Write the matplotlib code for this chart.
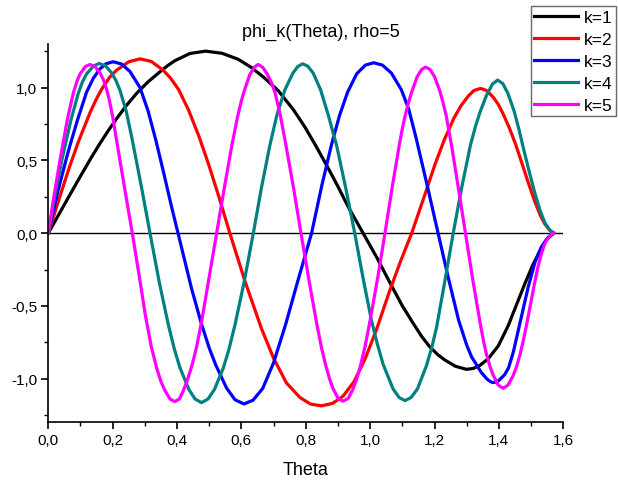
import matplotlib
matplotlib.use("Agg")
import matplotlib.pyplot as plt
from matplotlib.ticker import MultipleLocator, FuncFormatter

# ---- data ----
theta_k1 = [0.0, 0.047, 0.093, 0.135, 0.160, 0.185, 0.210, 0.240, 0.274, 0.310, 0.342,
            0.370, 0.393, 0.440, 0.489, 0.540, 0.590, 0.630, 0.670, 0.714, 0.761,
            0.797, 0.830, 0.865, 0.900, 0.932, 0.955, 0.978, 1.020, 1.066, 1.100,
            1.134, 1.160, 1.185, 1.210, 1.232, 1.265, 1.299, 1.320, 1.340, 1.366, 1.398,
            1.429, 1.455, 1.480, 1.505, 1.530, 1.550, 1.570]
phi_k1 = [0.0, 0.185, 0.365, 0.525, 0.615, 0.70, 0.78, 0.87, 0.96, 1.04, 1.10,
          1.15, 1.185, 1.235, 1.251, 1.236, 1.195, 1.14, 1.07, 0.98, 0.85,
          0.73, 0.605, 0.465, 0.32, 0.18, 0.09, 0.0, -0.165, -0.36, -0.50,
          -0.621, -0.71, -0.781, -0.835, -0.872, -0.915, -0.936, -0.93, -0.91, -0.865, -0.775,
          -0.635, -0.49, -0.35, -0.22, -0.11, -0.04, 0.0]

theta_k2 = [0.0, 0.035, 0.065, 0.093, 0.110, 0.130, 0.150, 0.166, 0.190, 0.212, 0.250,
            0.285, 0.320, 0.357, 0.380, 0.404, 0.435, 0.468, 0.497, 0.530, 0.564,
            0.611, 0.663, 0.700, 0.740, 0.782, 0.815, 0.849, 0.883, 0.916, 0.950,
            0.985, 1.020, 1.060, 1.095, 1.129, 1.170, 1.201, 1.230, 1.260, 1.282,
            1.304, 1.322, 1.343, 1.362, 1.382, 1.398, 1.413, 1.432, 1.452, 1.470,
            1.490, 1.511, 1.528, 1.542, 1.558, 1.570]
phi_k2 = [0.0, 0.245, 0.45, 0.625, 0.72, 0.83, 0.925, 0.99, 1.07, 1.12, 1.178,
          1.198, 1.180, 1.12, 1.065, 0.99, 0.85, 0.665, 0.48, 0.25, 0.0,
          -0.33, -0.66, -0.86, -1.03, -1.13, -1.175, -1.187, -1.17, -1.12, -1.02,
          -0.86, -0.66, -0.40, -0.19, 0.0, 0.265, 0.47, 0.64, 0.79, 0.875,
          0.94, 0.98, 0.995, 0.98, 0.935, 0.885, 0.82, 0.725, 0.61, 0.49,
          0.355, 0.22, 0.125, 0.065, 0.02, 0.0]

theta_k3 = [0.0, 0.030, 0.057, 0.067, 0.091, 0.119, 0.140, 0.160, 0.180, 0.202, 0.228,
            0.254, 0.285, 0.310, 0.334, 0.360, 0.382, 0.403, 0.445, 0.476, 0.500,
            0.520, 0.554, 0.580, 0.608, 0.636, 0.666, 0.700, 0.737, 0.775, 0.818,
            0.850, 0.880, 0.905, 0.930, 0.958, 0.985, 1.011, 1.038, 1.066, 1.097,
            1.120, 1.142, 1.177, 1.211, 1.242, 1.275, 1.300, 1.315, 1.346, 1.363,
            1.372, 1.380, 1.390, 1.400, 1.418, 1.430, 1.445, 1.462, 1.491, 1.512,
            1.532, 1.552, 1.570]
phi_k3 = [0.0, 0.29, 0.52, 0.60, 0.78, 0.97, 1.065, 1.128, 1.165, 1.178, 1.162,
          1.11, 1.00, 0.84, 0.64, 0.40, 0.19, 0.0, -0.38, -0.625, -0.79,
          -0.905, -1.065, -1.145, -1.174, -1.148, -1.068, -0.89, -0.63, -0.33, 0.0,
          0.33, 0.61, 0.81, 0.97, 1.095, 1.155, 1.171, 1.155, 1.10, 0.985,
          0.85, 0.66, 0.33, 0.0, -0.30, -0.60, -0.77, -0.85, -0.96, -1.003,
          -1.018, -1.027, -1.024, -1.012, -0.972, -0.925, -0.815, -0.65, -0.37, -0.20,
          -0.095, -0.03, 0.0]

theta_k4 = [0.0, 0.020, 0.041, 0.052, 0.0705, 0.093, 0.106, 0.119, 0.140, 0.158, 0.178,
            0.197, 0.210, 0.223, 0.243, 0.261, 0.290, 0.316, 0.345, 0.373, 0.392,
            0.409, 0.437, 0.456, 0.476, 0.496, 0.516, 0.544, 0.561, 0.580, 0.608,
            0.637, 0.662, 0.688, 0.710, 0.735, 0.760, 0.775, 0.790, 0.806, 0.823,
            0.846, 0.870, 0.896, 0.924, 0.952, 0.978, 1.004, 1.022, 1.040, 1.071,
            1.090, 1.108, 1.127, 1.147, 1.175, 1.192, 1.206, 1.232, 1.258, 1.285,
            1.312, 1.328, 1.341, 1.361, 1.380, 1.396, 1.412, 1.428, 1.447, 1.462,
            1.477, 1.495, 1.511, 1.528, 1.542, 1.558, 1.570]
phi_k4 = [0.0, 0.25, 0.49, 0.60, 0.78, 0.96, 1.04, 1.095, 1.148, 1.166, 1.150,
          1.10, 1.05, 0.98, 0.83, 0.64, 0.31, 0.0, -0.34, -0.63, -0.80,
          -0.925, -1.075, -1.14, -1.165, -1.14, -1.075, -0.925, -0.80, -0.63, -0.34,
          0.0, 0.31, 0.60, 0.81, 0.985, 1.10, 1.145, 1.164, 1.148, 1.10,
          0.985, 0.81, 0.60, 0.31, 0.0, -0.31, -0.60, -0.76, -0.90, -1.07,
          -1.13, -1.151, -1.13, -1.07, -0.91, -0.78, -0.65, -0.33, 0.0, 0.32,
          0.61, 0.74, 0.83, 0.945, 1.025, 1.052, 1.028, 0.96, 0.84, 0.715,
          0.575, 0.415, 0.28, 0.155, 0.075, 0.02, 0.0]

theta_k5 = [0.0, 0.018, 0.0355, 0.0435, 0.060, 0.078, 0.090, 0.099, 0.115, 0.1295, 0.145,
            0.161, 0.172, 0.181, 0.190, 0.200, 0.212, 0.237, 0.261, 0.280, 0.302,
            0.320, 0.337, 0.350, 0.362, 0.378, 0.393, 0.407, 0.419, 0.432, 0.445,
            0.460, 0.476, 0.500, 0.523, 0.546, 0.570, 0.588, 0.600, 0.609, 0.626,
            0.640, 0.652, 0.666, 0.681, 0.694, 0.704, 0.720, 0.737, 0.762, 0.785,
            0.808, 0.833, 0.848, 0.862, 0.875, 0.885, 0.900, 0.916, 0.932, 0.947,
            0.957, 0.970, 0.984, 0.999, 1.024, 1.046, 1.068, 1.090, 1.100, 1.108,
            1.118, 1.129, 1.146, 1.160, 1.172, 1.186, 1.200, 1.216, 1.226, 1.236,
            1.253, 1.274, 1.296, 1.318, 1.341, 1.352, 1.361, 1.372, 1.382, 1.398,
            1.413, 1.428, 1.444, 1.455, 1.465, 1.475, 1.486, 1.498, 1.511, 1.522,
            1.532, 1.542, 1.552, 1.562, 1.570]
phi_k5 = [0.0, 0.26, 0.49, 0.59, 0.79, 0.965, 1.05, 1.095, 1.145, 1.159, 1.145,
          1.10, 1.05, 0.99, 0.91, 0.80, 0.64, 0.31, 0.0, -0.26, -0.57,
          -0.78, -0.93, -1.02, -1.08, -1.14, -1.158, -1.14, -1.085, -1.01, -0.92,
          -0.79, -0.61, -0.30, 0.0, 0.30, 0.60, 0.80, 0.91, 0.98, 1.09,
          1.14, 1.159, 1.14, 1.09, 1.03, 0.97, 0.82, 0.62, 0.31, 0.0,
          -0.30, -0.61, -0.78, -0.91, -1.01, -1.07, -1.135, -1.155, -1.135, -1.07,
          -1.01, -0.91, -0.78, -0.61, -0.30, 0.0, 0.31, 0.60, 0.72, 0.80,
          0.89, 0.97, 1.075, 1.125, 1.141, 1.125, 1.075, 0.98, 0.90, 0.81,
          0.60, 0.31, 0.0, -0.31, -0.61, -0.74, -0.83, -0.915, -0.975, -1.045,
          -1.066, -1.045, -0.98, -0.915, -0.84, -0.745, -0.63, -0.49, -0.34, -0.225,
          -0.14, -0.075, -0.035, -0.01, 0.0]

series = [
    ("k=1", theta_k1, phi_k1, "#000000"),
    ("k=2", theta_k2, phi_k2, "#ff0000"),
    ("k=3", theta_k3, phi_k3, "#0000ff"),
    ("k=4", theta_k4, phi_k4, "#008080"),
    ("k=5", theta_k5, phi_k5, "#ff00ff"),
]

plt.rcParams['font.family'] = ['Liberation Sans', 'DejaVu Sans']

fig = plt.figure(figsize=(6.18, 4.81), dpi=100)
ax = fig.add_axes([48.3 / 618, 1 - 423.3 / 481, (563.3 - 48.3) / 618, (423.3 - 45) / 481])

ax.axhline(0, color="black", lw=1.0, zorder=1)
handles = []
for lab, t, v, c in series:
    h, = ax.plot(t, v, color=c, lw=2.3, label=lab, solid_joinstyle="round", zorder=2)
    handles.append(h)

ax.set_xlim(0, 1.6)
ax.set_ylim(-1.3, 1.3)
ax.xaxis.set_major_locator(MultipleLocator(0.2))
ax.xaxis.set_minor_locator(MultipleLocator(0.1))
ax.yaxis.set_major_locator(MultipleLocator(0.5))
ax.yaxis.set_minor_locator(MultipleLocator(0.25))
fmt = FuncFormatter(lambda v, p: ("%.1f" % v).replace(".", ",").replace("-0,0", "0,0"))
ax.xaxis.set_major_formatter(fmt)
ax.yaxis.set_major_formatter(fmt)

for s in ["top", "right"]:
    ax.spines[s].set_visible(False)
for s in ["left", "bottom"]:
    ax.spines[s].set_linewidth(1.2)
ax.tick_params(which="major", direction="out", length=5, width=1.2, labelsize=11, pad=3)
ax.tick_params(which="minor", direction="out", length=3, width=1.0)

ax.set_xlabel("Theta", fontsize=13, labelpad=10)
fig.text(321 / 618, 1 - 32 / 481, "phi_k(Theta), rho=5", ha="center", va="center", fontsize=13)

leg = fig.legend(handles=handles, loc="upper right", bbox_to_anchor=(616 / 618, 1 - 7 / 481),
                 frameon=True, fancybox=False, fontsize=12.5, handlelength=2.5,
                 handletextpad=0.35, borderpad=0.2, labelspacing=0.4, borderaxespad=0)
leg.get_frame().set_edgecolor("#444444")
leg.get_frame().set_linewidth(1.0)

fig.savefig("out.png", dpi=100)
